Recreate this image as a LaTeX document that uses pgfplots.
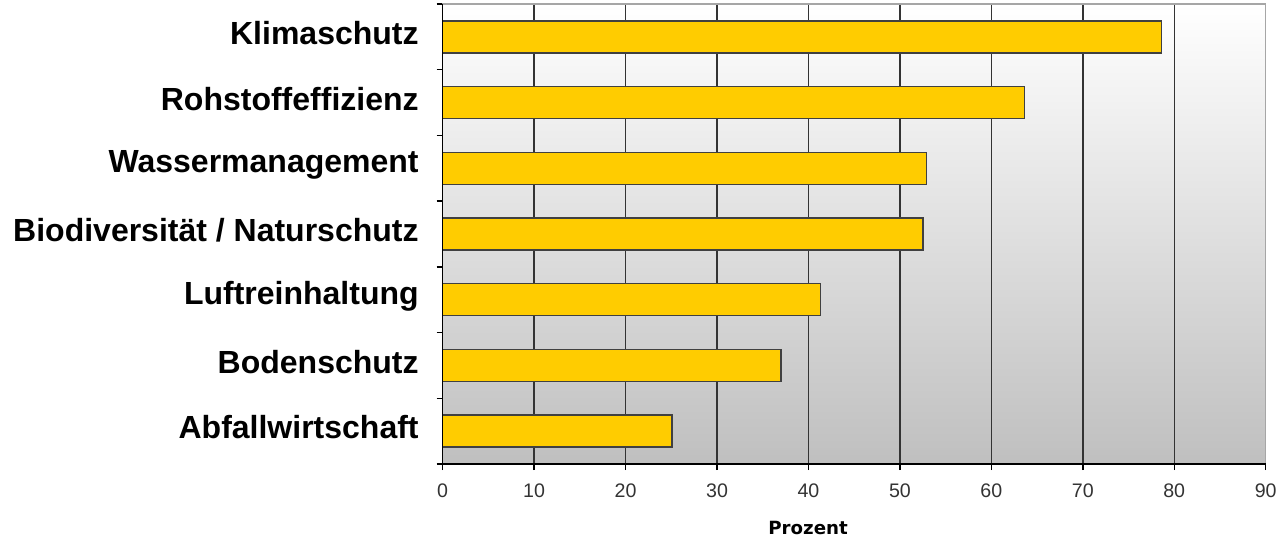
\documentclass[border=0pt]{standalone}
\usepackage{fontspec}
\setmainfont{Liberation Sans}
\newfontfamily\dejavu{DejaVu Sans}
\usepackage{pgfplots}
\pgfplotsset{compat=1.18}
\definecolor{baryellow}{HTML}{FFCC00}
\begin{document}
\begin{tikzpicture}
\useasboundingbox (-221.35pt,-37pt) rectangle (417.65pt,232pt);
\begin{axis}[
  scale only axis, width=411.5pt, height=230pt,
  xbar, xmin=0, xmax=90, ymin=-0.5, ymax=6.5,
  bar width=16pt,
  xtick={0,10,...,90},
  ytick={0,...,6},
  yticklabels={Abfallwirtschaft,Bodenschutz,Luftreinhaltung,Biodiversität / Naturschutz,Wassermanagement,Rohstoffeffizienz,Klimaschutz},
  minor ytick={-0.5,0.5,...,6.5},
  xtick pos=bottom, ytick pos=left,
  tick align=outside,
  major tick length=3pt, minor tick length=3pt,
  tick style={black, line width=0.75pt},
  major y tick style={draw=none},
  minor y tick style={black, line width=0.75pt},
  xmajorgrids,
  major x grid style={black!80, line width=0.75pt},
  axis background/.style={top color=white, bottom color=black!25},
  axis line style={draw=black!35, line width=0.75pt},
  /pgf/number format/assume math mode=true,
  xticklabel style={font=\fontsize{9.8}{10}\selectfont, text=black!80, yshift=-3.5pt},
  yticklabel style={font=\bfseries\fontsize{16}{17}\selectfont, xshift=-5.5pt, yshift=1.8pt},
  xlabel={Prozent},
  xlabel style={font=\dejavu\bfseries\fontsize{9.1}{10}\selectfont, at={(rel axis cs:0.444,0)}, anchor=center, yshift=-32pt},
  clip=false,
]
\addplot[fill=baryellow, draw=black!75, line width=0.75pt] coordinates {(25.1,0) (37.0,1) (41.3,2) (52.5,3) (52.9,4) (63.6,5) (78.6,6)};
\draw[black, line width=0.75pt] (rel axis cs:0,1) -- (rel axis cs:0,0) -- (rel axis cs:1,0);
\end{axis}
\end{tikzpicture}
\end{document}
